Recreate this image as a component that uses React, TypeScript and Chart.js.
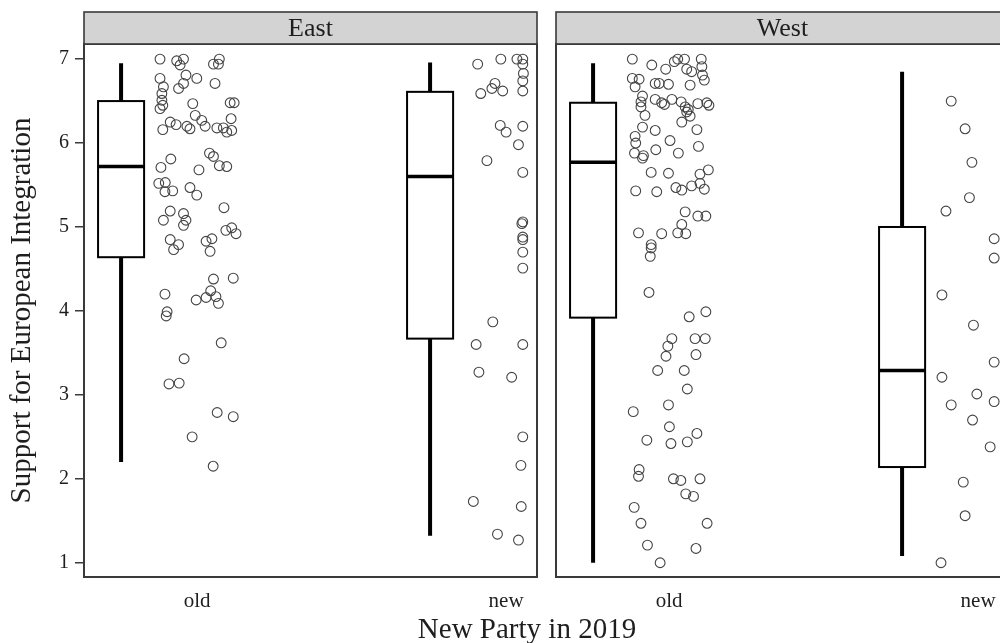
import { useEffect, useRef } from "react";
import { Chart, registerables } from "chart.js";

Chart.register(...registerables);

// ---------- data ----------
const categories = ["old", "new"];
const panelLabels = ["East", "West"];
const yTickValues = [1, 2, 3, 4, 5, 6, 7];
const yTitle = "Support for European Integration";
const xTitle = "New Party in 2019";

// box stats: [lower whisker, Q1, median, Q3, upper whisker]
const eastOldBox = [2.2, 4.64, 5.72, 6.5, 6.95];
const eastNewBox = [1.32, 3.67, 5.6, 6.61, 6.96];
const westOldBox = [1.0, 3.92, 5.77, 6.48, 6.95];
const westNewBox = [1.08, 2.14, 3.29, 5.0, 6.85];

// jittered observations: horizontal jitter (category units) and value
const eastOldJitter = [
  -0.12, -0.066, -0.044, -0.055, -0.036, -0.001, 0.072, 0.053, 0.069, -0.12,
  -0.109, -0.114, -0.044, -0.06, 0.058, -0.114, -0.111, -0.12, -0.014, 0.107,
  0.12, -0.006, 0.015, 0.026, 0.11, -0.111, -0.087, -0.068, -0.033, -0.023,
  0.064, 0.085, 0.096, 0.112, -0.085, -0.117, 0.006, 0.04, 0.053, 0.072,
  0.096, -0.124, -0.103, -0.104, -0.079, -0.023, -0.001, -0.087, -0.109, -0.044,
  -0.036, -0.044, 0.087, 0.093, 0.112, 0.126, -0.087, -0.076, -0.06, 0.029,
  0.048, 0.042, 0.053, 0.117, -0.104, -0.003, 0.029, 0.044, 0.061, 0.069,
  -0.097, -0.1, 0.078, -0.042, -0.091, -0.058, 0.065, 0.117, -0.016, 0.052,
];
const eastOldValues = [
  7.0, 6.98, 7.0, 6.93, 6.81, 6.77, 7.0, 6.94, 6.94, 6.77,
  6.67, 6.59, 6.71, 6.65, 6.71, 6.51, 6.45, 6.41, 6.47, 6.48,
  6.48, 6.33, 6.27, 6.2, 6.29, 6.16, 6.25, 6.22, 6.2, 6.17,
  6.18, 6.18, 6.13, 6.15, 5.81, 5.71, 5.68, 5.88, 5.84, 5.73,
  5.72, 5.52, 5.53, 5.42, 5.43, 5.47, 5.38, 5.19, 5.08, 5.16,
  5.08, 5.02, 5.23, 4.96, 4.99, 4.92, 4.85, 4.73, 4.79, 4.83,
  4.86, 4.71, 4.38, 4.39, 4.2, 4.13, 4.16, 4.24, 4.17, 4.09,
  3.99, 3.94, 3.62, 3.43, 3.13, 3.14, 2.79, 2.74, 2.5, 2.15,
];

const eastNewJitter = [
  -0.092, -0.017, 0.035, 0.054, 0.054, 0.056, 0.054, 0.054, -0.036, -0.046,
  -0.011, -0.082, -0.019, 0.0, 0.054, 0.04, -0.062, 0.054, 0.051, 0.054,
  0.054, 0.054, 0.054, 0.054, -0.043, -0.097, 0.054, -0.088, 0.018, 0.054,
  0.048, -0.106, 0.049, -0.028, 0.04,
];
const eastNewValues = [
  6.94, 7.0, 7.0, 7.0, 6.94, 6.83, 6.74, 6.62, 6.71, 6.65,
  6.62, 6.59, 6.21, 6.13, 6.2, 5.98, 5.79, 5.65, 5.04, 5.06,
  4.88, 4.85, 4.7, 4.51, 3.87, 3.6, 3.6, 3.27, 3.21, 2.5,
  2.16, 1.73, 1.67, 1.34, 1.27,
];

const westOldJitter = [
  -0.119, -0.056, -0.011, 0.017, 0.028, 0.05, 0.104, 0.106, 0.057, 0.073,
  0.108, 0.114, -0.119, -0.097, -0.11, -0.045, -0.032, -0.002, 0.068, -0.086,
  -0.091, -0.091, -0.045, -0.024, -0.015, 0.009, 0.039, 0.052, 0.057, 0.062,
  0.068, 0.093, 0.122, 0.129, -0.078, 0.041, -0.086, -0.045, 0.09, -0.11,
  -0.108, 0.003, -0.112, -0.083, -0.086, -0.043, 0.03, 0.095, -0.058, -0.002,
  0.1, 0.127, -0.108, -0.04, 0.022, 0.041, 0.073, 0.1, 0.114, 0.052,
  0.093, 0.119, 0.041, -0.099, -0.024, 0.028, 0.054, -0.058, -0.058, -0.061,
  -0.065, 0.065, 0.119, 0.009, 0.084, 0.117, -0.004, -0.01, 0.087, -0.037,
  0.049, 0.059, -0.002, -0.116, 0.001, -0.072, 0.006, 0.059, 0.09, -0.097,
  -0.099, 0.014, 0.038, 0.1, 0.054, 0.079, -0.113, -0.091, 0.123, -0.07,
  0.087, -0.029,
];
const westOldValues = [
  7.0, 6.93, 6.88, 6.97, 7.0, 7.0, 7.0, 6.91, 6.88, 6.85,
  6.81, 6.75, 6.77, 6.76, 6.67, 6.71, 6.71, 6.7, 6.69, 6.56,
  6.49, 6.43, 6.52, 6.48, 6.46, 6.52, 6.49, 6.43, 6.37, 6.4,
  6.32, 6.47, 6.48, 6.45, 6.33, 6.25, 6.19, 6.15, 6.16, 6.08,
  6.0, 6.03, 5.88, 5.85, 5.82, 5.92, 5.88, 5.96, 5.65, 5.64,
  5.63, 5.68, 5.43, 5.42, 5.47, 5.44, 5.49, 5.52, 5.45, 5.18,
  5.13, 5.13, 5.03, 4.93, 4.92, 4.93, 4.92, 4.79, 4.75, 4.65,
  4.22, 3.93, 3.99, 3.67, 3.67, 3.67, 3.58, 3.46, 3.48, 3.29,
  3.29, 3.07, 2.88, 2.8, 2.62, 2.46, 2.42, 2.44, 2.54, 2.11,
  2.03, 2.0, 1.98, 2.0, 1.82, 1.79, 1.66, 1.47, 1.47, 1.21,
  1.17, 1.0,
];

const westNewJitter = [
  -0.087, -0.042, -0.02, -0.028, -0.104, 0.052, 0.052, -0.117, -0.015, 0.052,
  -0.117, -0.004, 0.052, -0.087, -0.018, 0.039, -0.048, -0.042, -0.12,
];
const westNewValues = [
  6.5, 6.17, 5.77, 5.35, 5.19, 4.86, 4.63, 4.19, 3.83, 3.39,
  3.21, 3.01, 2.92, 2.88, 2.7, 2.38, 1.96, 1.56, 1.0,
];

// ---------- layout / style ----------
const W = 1020;
const H = 643;
const FONT = "'Liberation Serif', 'Times New Roman', serif";
const TEXT = "#1e1e1e";
const FRAME = "#3a3a3a";
const X_MIN = 0.634;
const X_MAX = 2.1;
const Y_MIN = 0.83;
const Y_MAX = 7.18;
const BOX_SHIFT = -0.246;
const BOX_WIDTH = 0.149;
const PLOT_TOP = 44;
const PLOT_BOTTOM = 577;
const STRIP_TOP = 12;

type PanelSpec = {
  label: string;
  boxes: number[][];
  jitters: number[][];
  values: number[][];
  left: number;
  right: number;
  showY: boolean;
};

const panelSpecs: PanelSpec[] = [
  {
    label: panelLabels[0],
    boxes: [eastOldBox, eastNewBox],
    jitters: [eastOldJitter, eastNewJitter],
    values: [eastOldValues, eastNewValues],
    left: 84,
    right: 537,
    showY: true,
  },
  {
    label: panelLabels[1],
    boxes: [westOldBox, westNewBox],
    jitters: [westOldJitter, westNewJitter],
    values: [westOldValues, westNewValues],
    left: 556,
    right: 1009,
    showY: false,
  },
];

function makeConfig(spec: PanelSpec): any {
  const decor = {
    id: "panelDecor",
    afterDatasetsDraw(chart: any) {
      const { ctx, chartArea, scales } = chart;
      const x = scales.x;
      const y = scales.y;
      ctx.save();
      ctx.strokeStyle = "#000";
      ctx.lineCap = "butt";
      spec.boxes.forEach((b, i) => {
        const [mn, q1, med, q3, mx] = b;
        const c = i + 1 + BOX_SHIFT;
        const xl = x.getPixelForValue(c - BOX_WIDTH / 2);
        const xr = x.getPixelForValue(c + BOX_WIDTH / 2);
        const xc = x.getPixelForValue(c);
        ctx.lineWidth = 4;
        ctx.beginPath();
        ctx.moveTo(xc, y.getPixelForValue(q3));
        ctx.lineTo(xc, y.getPixelForValue(mx));
        ctx.moveTo(xc, y.getPixelForValue(q1));
        ctx.lineTo(xc, y.getPixelForValue(mn));
        ctx.stroke();
        ctx.lineWidth = 2;
        ctx.fillStyle = "#fff";
        const yt = y.getPixelForValue(q3);
        const yb = y.getPixelForValue(q1);
        ctx.fillRect(xl, yt, xr - xl, yb - yt);
        ctx.strokeRect(xl, yt, xr - xl, yb - yt);
        ctx.lineWidth = 3.5;
        ctx.beginPath();
        ctx.moveTo(xl, y.getPixelForValue(med));
        ctx.lineTo(xr, y.getPixelForValue(med));
        ctx.stroke();
      });
      ctx.restore();

      // frame
      ctx.save();
      ctx.strokeStyle = FRAME;
      ctx.lineWidth = 2;
      ctx.strokeRect(chartArea.left, chartArea.top, chartArea.right - chartArea.left, chartArea.bottom - chartArea.top);
      // strip
      ctx.fillStyle = "#d3d3d3";
      ctx.fillRect(chartArea.left, STRIP_TOP, chartArea.right - chartArea.left, chartArea.top - STRIP_TOP);
      ctx.lineWidth = 1.6;
      ctx.strokeRect(chartArea.left, STRIP_TOP, chartArea.right - chartArea.left, chartArea.top - STRIP_TOP);
      ctx.fillStyle = TEXT;
      ctx.font = `26px ${FONT}`;
      ctx.textAlign = "center";
      ctx.textBaseline = "middle";
      ctx.fillText(spec.label, (chartArea.left + chartArea.right) / 2, (STRIP_TOP + chartArea.top) / 2 + 1);
      if (spec.showY) {
        ctx.font = `29px ${FONT}`;
        ctx.fillText(xTitle, 527, 630);
      }
      ctx.restore();
    },
  };

  const datasets = categories.map((_, ci) => ({
    type: "scatter",
    label: categories[ci],
    data: spec.jitters[ci].map((j, k) => ({ x: ci + 1 + j, y: spec.values[ci][k] })),
    pointRadius: 4.9,
    pointHoverRadius: 4.9,
    borderColor: "#444",
    borderWidth: 1.1,
    backgroundColor: "rgba(0,0,0,0)",
    pointStyle: "circle",
  }));

  return {
    type: "scatter",
    data: { datasets },
    plugins: [decor],
    options: {
      responsive: false,
      animation: false,
      events: [],
      layout: {
        padding: {
          left: spec.showY ? 0 : spec.left,
          right: W - spec.right,
          top: PLOT_TOP,
          bottom: 0,
        },
      },
      plugins: {
        legend: { display: false },
        tooltip: { enabled: false },
        title: { display: false },
      },
      scales: {
        x: {
          type: "linear",
          min: X_MIN,
          max: X_MAX,
          afterBuildTicks: (s: any) => {
            s.ticks = categories.map((_, i) => ({ value: i + 1 }));
          },
          afterFit: (s: any) => {
            s.height = H - PLOT_BOTTOM;
          },
          grid: { display: false, drawTicks: false },
          border: { display: false },
          ticks: {
            autoSkip: false,
            maxRotation: 0,
            padding: 12,
            color: TEXT,
            font: { family: FONT, size: 21 },
            callback: (v: number) => categories[Math.round(v) - 1] ?? "",
          },
        },
        y: {
          type: "linear",
          display: spec.showY,
          min: Y_MIN,
          max: Y_MAX,
          afterBuildTicks: (s: any) => {
            s.ticks = yTickValues.map((v) => ({ value: v }));
          },
          afterFit: (s: any) => {
            s.width = spec.showY ? spec.left : 0;
          },
          grid: {
            display: true,
            drawOnChartArea: false,
            drawTicks: true,
            tickLength: 9,
            color: FRAME,
            lineWidth: 1.5,
          },
          border: { display: false },
          ticks: {
            padding: 6,
            color: TEXT,
            font: { family: FONT, size: 20 },
          },
          title: {
            display: true,
            text: yTitle,
            color: TEXT,
            font: { family: FONT, size: 29 },
            padding: { top: 5, bottom: 0 },
          },
        },
      },
    },
  };
}

export default function App() {
  const leftRef = useRef<HTMLCanvasElement>(null);
  const rightRef = useRef<HTMLCanvasElement>(null);

  useEffect(() => {
    document.body.style.margin = "0";
    const c1 = new Chart(leftRef.current as HTMLCanvasElement, makeConfig(panelSpecs[0]));
    const c2 = new Chart(rightRef.current as HTMLCanvasElement, makeConfig(panelSpecs[1]));
    return () => {
      c1.destroy();
      c2.destroy();
    };
  }, []);

  return (
    <div
      style={{
        position: "fixed",
        left: 0,
        top: 0,
        width: 1000,
        height: H,
        overflow: "hidden",
        background: "#ffffff",
      }}
    >
      <canvas ref={leftRef} width={W} height={H} style={{ position: "absolute", left: 0, top: 0 }} />
      <canvas ref={rightRef} width={W} height={H} style={{ position: "absolute", left: 0, top: 0 }} />
    </div>
  );
}
